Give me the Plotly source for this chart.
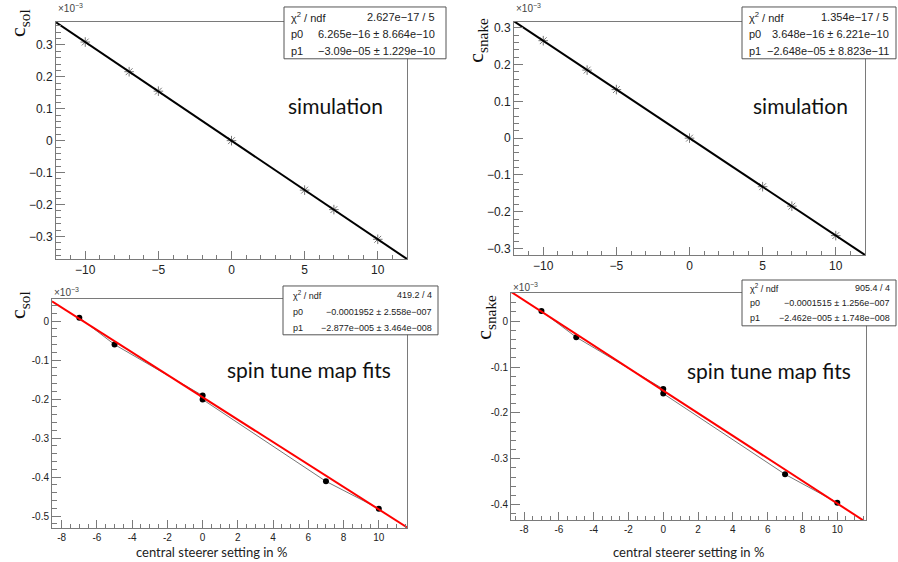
import plotly.graph_objects as go

W, H = 898, 562

# ---------------- data (y values in units of 1e-3) ----------------
sim_x = [-10, -7, -5, 0, 5, 7, 10]
sol_sim_y = [0.309, 0.216, 0.155, 0.0, -0.155, -0.216, -0.309]
snake_sim_y = [0.265, 0.185, 0.132, 0.0, -0.132, -0.185, -0.265]

meas_x = [-7, -5, 0, 0, 7, 10]
sol_meas_y = [0.009, -0.060, -0.191, -0.201, -0.411, -0.481]
snake_meas_y = [0.022, -0.035, -0.148, -0.158, -0.334, -0.396]

# fit parameters (p0 in 1e-3, p1 in 1e-3 per %)
sol_sim_p = [6.265e-13, -0.0309]
snake_sim_p = [3.648e-13, -0.02648]
sol_meas_p = [-0.1952, -0.02877]
snake_meas_p = [-0.1515, -0.02462]

# stats box texts
stats_labels = ["χ<sup>2</sup> / ndf", "p0", "p1"]
sol_sim_stats = ["2.627e−17 / 5", "6.265e−16 ± 8.664e−10", "−3.09e−05 ± 1.229e−10"]
snake_sim_stats = ["1.354e−17 / 5", "3.648e−16 ± 6.221e−10", "−2.648e−05 ± 8.823e−11"]
sol_meas_stats = ["419.2 / 4", "−0.0001952 ± 2.558e−007", "−2.877e−005 ± 3.464e−008"]
snake_meas_stats = ["905.4 / 4", "−0.0001515 ± 1.256e−007", "−2.462e−005 ± 1.748e−008"]

# tick labels for bottom panels (ROOT style hyphen)
bot_xticks = [-8, -6, -4, -2, 0, 2, 4, 6, 8, 10]
bot_xticktext = ["-8", "-6", "-4", "-2", "0", "2", "4", "6", "8", "10"]
sol_meas_yticks = [0, -0.1, -0.2, -0.3, -0.4, -0.5]
sol_meas_yticktext = ["0", "-0.1", "-0.2", "-0.3", "-0.4", "-0.5"]
snake_meas_yticks = [0, -0.1, -0.2, -0.3, -0.4]
snake_meas_yticktext = ["0", "-0.1", "-0.2", "-0.3", "-0.4"]

# ---------------- layout geometry (pixels) ----------------
panels = [
    dict(box=(56, 407, 21, 259), xr=(-12, 12), yr=(-0.371, 0.372)),
    dict(box=(514, 865, 21, 255), xr=(-12, 12), yr=(-0.318, 0.316)),
    dict(box=(52, 407, 299, 529), xr=(-8.55, 11.6), yr=(-0.531, 0.057)),
    dict(box=(511, 866, 293, 521), xr=(-8.75, 11.65), yr=(-0.434, 0.0615)),
]


def px(x):
    return x / W


def py(y):
    return 1 - y / H


fig = go.Figure()

AX = "#7a7a7a"
TXT = "#222222"


def add_line(idx, p, color, width):
    xr = panels[idx]["xr"]
    xs = [xr[0], xr[1]]
    ys = [p[0] + p[1] * v for v in xs]
    fig.add_trace(go.Scatter(x=xs, y=ys, mode="lines",
                             line=dict(color=color, width=width),
                             xaxis=f"x{idx+1}", yaxis=f"y{idx+1}",
                             showlegend=False, hoverinfo="skip"))


# top panels: simulation
for idx, ys, p in [(0, sol_sim_y, sol_sim_p), (1, snake_sim_y, snake_sim_p)]:
    fig.add_trace(go.Scatter(x=sim_x, y=ys, mode="markers",
                             marker=dict(symbol="asterisk-open", size=8,
                                         color="#777", line=dict(color="#777", width=1)),
                             xaxis=f"x{idx+1}", yaxis=f"y{idx+1}", showlegend=False))
    add_line(idx, p, "black", 2)

# bottom panels: measurements
for idx, ys, p in [(2, sol_meas_y, sol_meas_p), (3, snake_meas_y, snake_meas_p)]:
    fig.add_trace(go.Scatter(x=meas_x, y=ys, mode="lines+markers",
                             line=dict(color="#777", width=1),
                             marker=dict(symbol="circle", size=6, color="black"),
                             xaxis=f"x{idx+1}", yaxis=f"y{idx+1}", showlegend=False))
    add_line(idx, p, "#ff0000", 2)

layout = dict(width=W, height=H, margin=dict(l=0, r=0, t=0, b=0),
              paper_bgcolor="white", plot_bgcolor="white", showlegend=False)

for i, pnl in enumerate(panels):
    x0, x1, y0, y1 = pnl["box"]
    top = i < 2
    fs = 12 if top else 10
    xa = dict(domain=[px(x0), px(x1)], range=list(pnl["xr"]), anchor=f"y{i+1}",
              showline=True, mirror=True, linecolor=AX, linewidth=1,
              showgrid=False, zeroline=False, ticks="inside", ticklen=8,
              tickcolor=AX, tickfont=dict(family="Liberation Sans", size=fs, color=TXT))
    ya = dict(domain=[py(y1), py(y0)], range=list(pnl["yr"]), anchor=f"x{i+1}",
              showline=True, mirror=True, linecolor=AX, linewidth=1,
              showgrid=False, zeroline=False, ticks="inside", ticklen=9,
              tickcolor=AX, tickfont=dict(family="Liberation Sans", size=fs, color=TXT))
    if top:
        xa.update(dtick=5, tick0=0, minor=dict(ticks="inside", ticklen=4, dtick=1, tickcolor=AX))
        ya.update(dtick=0.1, tick0=0, minor=dict(ticks="inside", ticklen=5, dtick=0.02, tickcolor=AX))
    else:
        xa.update(tickmode="array", tickvals=bot_xticks, ticktext=bot_xticktext,
                  minor=dict(ticks="inside", ticklen=4, dtick=0.5, tick0=0, tickcolor=AX))
        if i == 2:
            ya.update(tickmode="array", tickvals=sol_meas_yticks, ticktext=sol_meas_yticktext)
        else:
            ya.update(tickmode="array", tickvals=snake_meas_yticks, ticktext=snake_meas_yticktext)
        ya.update(minor=dict(ticks="inside", ticklen=5, dtick=0.02, tick0=0, tickcolor=AX))
    sfx = "" if i == 0 else str(i + 1)
    layout["xaxis" + sfx] = xa
    layout["yaxis" + sfx] = ya

fig.update_layout(**layout)

shapes = []
annotations = []

# stats boxes
boxes = [
    dict(rect=(284, 446, 6, 58), rows=(16, 33, 50), vals=sol_sim_stats, fs=11, pl=5, pr=9),
    dict(rect=(742, 896, 6, 58), rows=(16, 33, 50), vals=snake_sim_stats, fs=11, pl=5, pr=5),
    dict(rect=(283, 438, 286, 335), rows=(295, 312, 328), vals=sol_meas_stats, fs=9, pl=8, pr=4),
    dict(rect=(742, 896, 280, 326), rows=(288, 303, 318), vals=snake_meas_stats, fs=9, pl=6, pr=4),
]
for b in boxes:
    x0, x1, y0, y1 = b["rect"]
    shapes.append(dict(type="rect", xref="paper", yref="paper",
                       x0=px(x0), x1=px(x1), y0=py(y1), y1=py(y0),
                       line=dict(color="#555", width=1), fillcolor="white", layer="above"))
    for lab, val, ry in zip(stats_labels, b["vals"], b["rows"]):
        annotations.append(dict(xref="paper", yref="paper", x=px(x0 + b["pl"]), y=py(ry),
                                xanchor="left", yanchor="middle", showarrow=False, text=lab,
                                font=dict(family="Liberation Sans", size=b["fs"], color=TXT)))
        annotations.append(dict(xref="paper", yref="paper", x=px(x1 - b["pr"]), y=py(ry),
                                xanchor="right", yanchor="middle", showarrow=False, text=val,
                                font=dict(family="Liberation Sans", size=b["fs"], color=TXT)))

# big in-plot labels
for txt, cx, cy in [("simulation", 335, 105), ("simulation", 800, 105),
                    ("spin tune map fits", 309, 370), ("spin tune map fits", 769, 371)]:
    annotations.append(dict(xref="paper", yref="paper", x=px(cx), y=py(cy),
                            xanchor="center", yanchor="middle", showarrow=False, text=txt,
                            font=dict(family="Lato", size=21, color="#111")))

# y-axis titles
for txt, cx, cy in [("c<sub>sol</sub>", 19, 22), ("c<sub>snake</sub>", 477, 40),
                    ("c<sub>sol</sub>", 19, 305), ("c<sub>snake</sub>", 485, 317)]:
    annotations.append(dict(xref="paper", yref="paper", x=px(cx), y=py(cy),
                            xanchor="center", yanchor="middle", showarrow=False, text=txt,
                            textangle=-90,
                            font=dict(family="Liberation Serif", size=22, color="#111")))

# exponent labels
for cx, cy in [(56, 7), (514, 7), (52, 292), (511, 287)]:
    annotations.append(dict(xref="paper", yref="paper", x=px(cx), y=py(cy),
                            xanchor="left", yanchor="middle", showarrow=False,
                            text="×10<sup>−3</sup>",
                            font=dict(family="Liberation Sans", size=10, color="#444")))

# x-axis titles (bottom)
for cx in [211, 688]:
    annotations.append(dict(xref="paper", yref="paper", x=px(cx), y=py(553),
                            xanchor="center", yanchor="middle", showarrow=False,
                            text="central steerer setting in %",
                            font=dict(family="Lato", size=13, color="#222")))

fig.update_layout(shapes=shapes, annotations=annotations)
fig.write_html("out.html", config={"displayModeBar": False},
               post_script="document.body.style.margin='0px';document.body.style.overflow='hidden';")
